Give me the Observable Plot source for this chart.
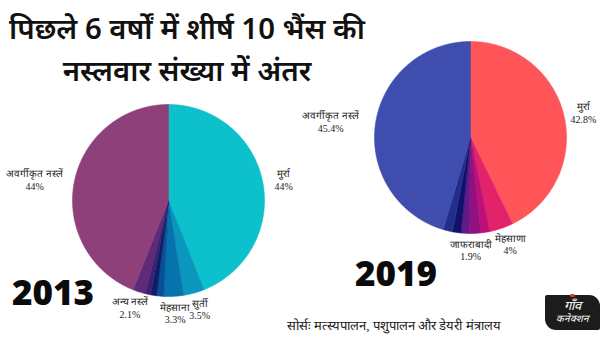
<!DOCTYPE html>
<html><head><meta charset="utf-8">
<script src="https://cdn.jsdelivr.net/npm/d3@7"></script>
<script src="https://cdn.jsdelivr.net/npm/@observablehq/plot@0.6"></script>
<style>
html,body{margin:0;padding:0;background:#fff;}
#wrap{position:relative;width:616px;height:347px;overflow:hidden;background:#fff;}
#chart{position:absolute;left:0;top:0;}
.title{position:absolute;left:0;top:7px;width:374px;text-align:center;font-family:"Noto Sans",sans-serif;font-weight:600;font-size:29.3px;line-height:42px;color:#111;}
.year{position:absolute;font-family:"Open Sans",sans-serif;font-weight:800;font-size:35px;line-height:1;color:#0b0b0b;}
.source{position:absolute;left:287px;top:318px;font-family:"Liberation Serif",serif;font-size:13px;line-height:16px;color:#1a1a1a;white-space:nowrap;}
.logo{position:absolute;left:545px;top:295px;width:55px;height:35px;background:#1c1c1c;border-radius:2px 11px 2px 11px;color:#fff;text-align:center;font-family:"Liberation Serif",serif;}
.logo .a{font-size:13px;line-height:15px;margin-top:3px;font-style:italic;}
.logo .b{font-size:10px;line-height:12px;font-style:italic;}
.logo .dot{position:absolute;left:25px;top:-1px;width:5px;height:3px;background:#e0342c;border-radius:2px;}
</style></head><body>
<div id="wrap">
  <div id="chart"></div>
  <div class="title">पिछले 6 वर्षों में शीर्ष 10 भैंस की<br>नस्लवार संख्या में अंतर</div>
  <div class="year" style="left:12px;top:274px;">2013</div>
  <div class="year" style="left:355px;top:255px;">2019</div>
  <div class="source">सोर्सः मत्स्यपालन, पशुपालन और डेयरी मंत्रालय</div>
  <div class="logo"><div class="dot"></div><div class="a">गाँव</div><div class="b">कनेक्शन</div></div>
</div>
<script>
// ---- data ----
const names2013 = ["मुर्रा", "सुर्ती", "मेहसाना", "", "", "", "अन्य नस्लें", "अवर्गीकृत नस्लें"];
const values2013 = [44, 3.5, 3.3, 1.2, 1.0, 0.9, 2.1, 44];
const colors2013 = ["#0cc1cb", "#0a96bd", "#0673ad", "#0a4f99", "#0c1f66", "#3a2271", "#5d2b78", "#8e407b"];

const names2019 = ["मुर्रा", "मेहसाणा", "", "जाफराबादी", "", "", "", "अवर्गीकृत नस्लें"];
const values2019 = [42.8, 4, 1.5, 1.9, 1.4, 1.4, 1.6, 45.4];
const colors2019 = ["#ff5558", "#e2226b", "#bd1079", "#93117f", "#62198a", "#13106b", "#232d8a", "#3f4daf"];

// ---- layout (not data) ----
const W = 616, H = 347;
const pies = [
  {year: "2013", names: names2013, values: values2013, colors: colors2013, cx: 168, cy: 200, r: 96},
  {year: "2019", names: names2019, values: values2019, colors: colors2019, cx: 470, cy: 137, r: 96}
];
const labelFontSize = 10, labelLineHeight = 1.25;
const labelFont = `${labelFontSize}px 'Liberation Serif', serif`;
const nudges = {"2019|जाफराबादी": [-6, 0], "2019|मुर्रा": [-5, 0], "2019|अवर्गीकृत नस्लें": [-5, 0]};

const ctx = document.createElement("canvas").getContext("2d");
ctx.font = labelFont;
const measure = s => ctx.measureText(s).width;

const polys = [];
const labels = [];
for (const p of pies) {
  const arcs = d3.pie().sort(null).value(d => d)(p.values);
  arcs.forEach((a, i) => {
    const id = p.year + "-" + i;
    const color = p.colors[i];
    polys.push({id, color, x: p.cx, y: p.cy});
    const n = Math.max(2, Math.ceil((a.endAngle - a.startAngle) / (Math.PI / 360)));
    for (let k = 0; k <= n; k++) {
      const t = a.startAngle + (a.endAngle - a.startAngle) * k / n;
      polys.push({id, color, x: p.cx + p.r * Math.sin(t), y: p.cy - p.r * Math.cos(t)});
    }
    polys.push({id, color, x: p.cx, y: p.cy});
    const name = p.names[i];
    if (name) {
      const pct = `${p.values[i]}%`;
      const w = Math.max(measure(name), measure(pct));
      const h = 2 * labelFontSize * labelLineHeight;
      const m = (a.startAngle + a.endAngle) / 2;
      const s = Math.sin(m), c = Math.cos(m);
      const R = p.r + 4;
      const nd = nudges[p.year + "|" + name] || [0, 0];
      labels.push({
        text: name + "\n" + pct,
        x: p.cx + R * s + s * (w / 2 + 8) + nd[0],
        y: p.cy - R * c - c * h / 2 + nd[1]
      });
    }
  });
}

const chart = Plot.plot({
  width: W, height: H, margin: 0,
  style: {background: "transparent"},
  x: {domain: [0, W], range: [0, W], axis: null},
  y: {domain: [0, H], range: [0, H], axis: null},
  color: {type: "identity"},
  marks: [
    Plot.line(polys, {x: "x", y: "y", z: "id", fill: "color", stroke: "color", strokeWidth: 0.6, curve: "linear"}),
    Plot.text(labels, {x: "x", y: "y", text: "text", textAnchor: "middle", lineAnchor: "middle",
      lineHeight: labelLineHeight, fontSize: labelFontSize, fontFamily: "'Liberation Serif', serif", fill: "#222"})
  ]
});
document.getElementById("chart").appendChild(chart);
</script>
</body></html>
